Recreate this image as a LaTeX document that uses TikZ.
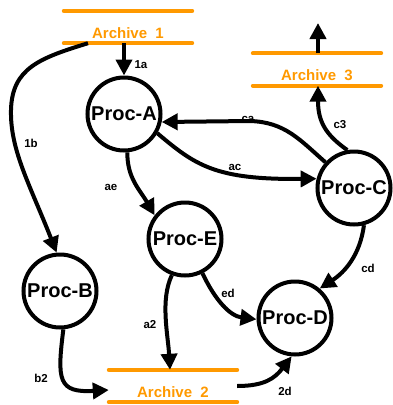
\documentclass[tikz,border=0pt]{standalone}
\usepackage{fontspec}
\setmainfont{Liberation Sans}
\usetikzlibrary{arrows.meta}
\definecolor{archorange}{RGB}{255,153,0}
\begin{document}
\begin{tikzpicture}[x=1pt,y=1pt,
  proc/.style={circle, draw=black, line width=4pt, minimum size=73pt, inner sep=0pt,
    font=\bfseries\fontsize{20}{24}\selectfont},
  archive/.style={rectangle, minimum width=128pt, minimum height=32pt, inner sep=0pt,
    text=archorange, font=\bfseries\fontsize{15}{18}\selectfont,
    text height=22.8pt, text depth=0pt},
  archline/.style={line width=4pt, draw=archorange, line cap=round},
  flow/.style={line width=4pt, draw=black, -{Triangle[length=16pt,width=16pt]}},
  flowlabel/.style={font=\bfseries\fontsize{11.5}{13}\selectfont, inner sep=0pt}
]
\useasboundingbox (0,0) rectangle (392,-405);

% processes
\node[proc] (A) at (124,-114) {Proc-A};
\node[proc] (B) at (60,-291) {Proc-B};
\node[proc] (C) at (354,-188) {Proc-C};
\node[proc] (D) at (295,-318) {Proc-D};
\node[proc] (E) at (185,-239) {Proc-E};

% data stores
\node[archive] (arch1) at (128,-27) {Archive~~1};
\node[archive] (arch3) at (317,-69.5) {Archive~~3};
\node[archive] (arch2) at (173,-386) {Archive~~2};
\foreach \n in {arch1,arch2,arch3}{
  \draw[archline] (\n.north west) -- (\n.north east);
  \draw[archline] (\n.south west) -- (\n.south east);
}
\coordinate (out3) at (318,-23);

% flows
\draw[flow] ([xshift=-4pt]arch1.south) -- (A.north);
\draw[flow] ([xshift=-40pt]arch1.south) .. controls (40,-58) and (12,-68) .. (11,-110)
  .. controls (10,-150) and (30,-185) .. (B.95);
\draw[flow] (A.-85) .. controls (127,-178) and (140,-190) .. (E.142);
\draw[flow] (A.-30) .. controls (195,-165) and (215,-180) .. (C.166);
\draw[flow] (C.138) .. controls (300,-140) and (285,-122) .. (250,-121) -- (A.-12);
\draw[flow] (C.100) .. controls (326,-135) and (318,-122) .. ([xshift=1pt]arch3.south);
\draw[flow] ([xshift=1pt]arch3.north) -- (out3);
\draw[flow] (C.-75) .. controls (360,-255) and (345,-272) .. (D.50);
\draw[flow] (E.-63) .. controls (215,-300) and (230,-316) .. (D.182);
\draw[flow] (E.-110) .. controls (160,-300) and (168,-335) .. ([xshift=-3pt]arch2.north);
\draw[flow] (B.-85) .. controls (57,-380) and (58,-393) .. ([yshift=-4pt]arch2.west);
\draw[flow] (arch2.east) .. controls (265,-386) and (275,-378) .. (D.-95);

% flow labels
\node[flowlabel] (l1a) at (141,-65) {1a};
\node[flowlabel] (l1b) at (31,-143) {1b};
\node[flowlabel] (lae) at (111,-187) {ae};
\node[flowlabel] (lac) at (235,-167) {ac};
\node[flowlabel] (lca) at (248,-119) {ca};
\node[flowlabel] (lc3) at (340,-125) {c3};
\node[flowlabel] (lcd) at (368,-268) {cd};
\node[flowlabel] (led) at (228,-293) {ed};
\node[flowlabel] (la2) at (150,-325) {a2};
\node[flowlabel] (lb2) at (41,-378) {b2};
\node[flowlabel] (l2d) at (285,-391) {2d};
\end{tikzpicture}
\end{document}
